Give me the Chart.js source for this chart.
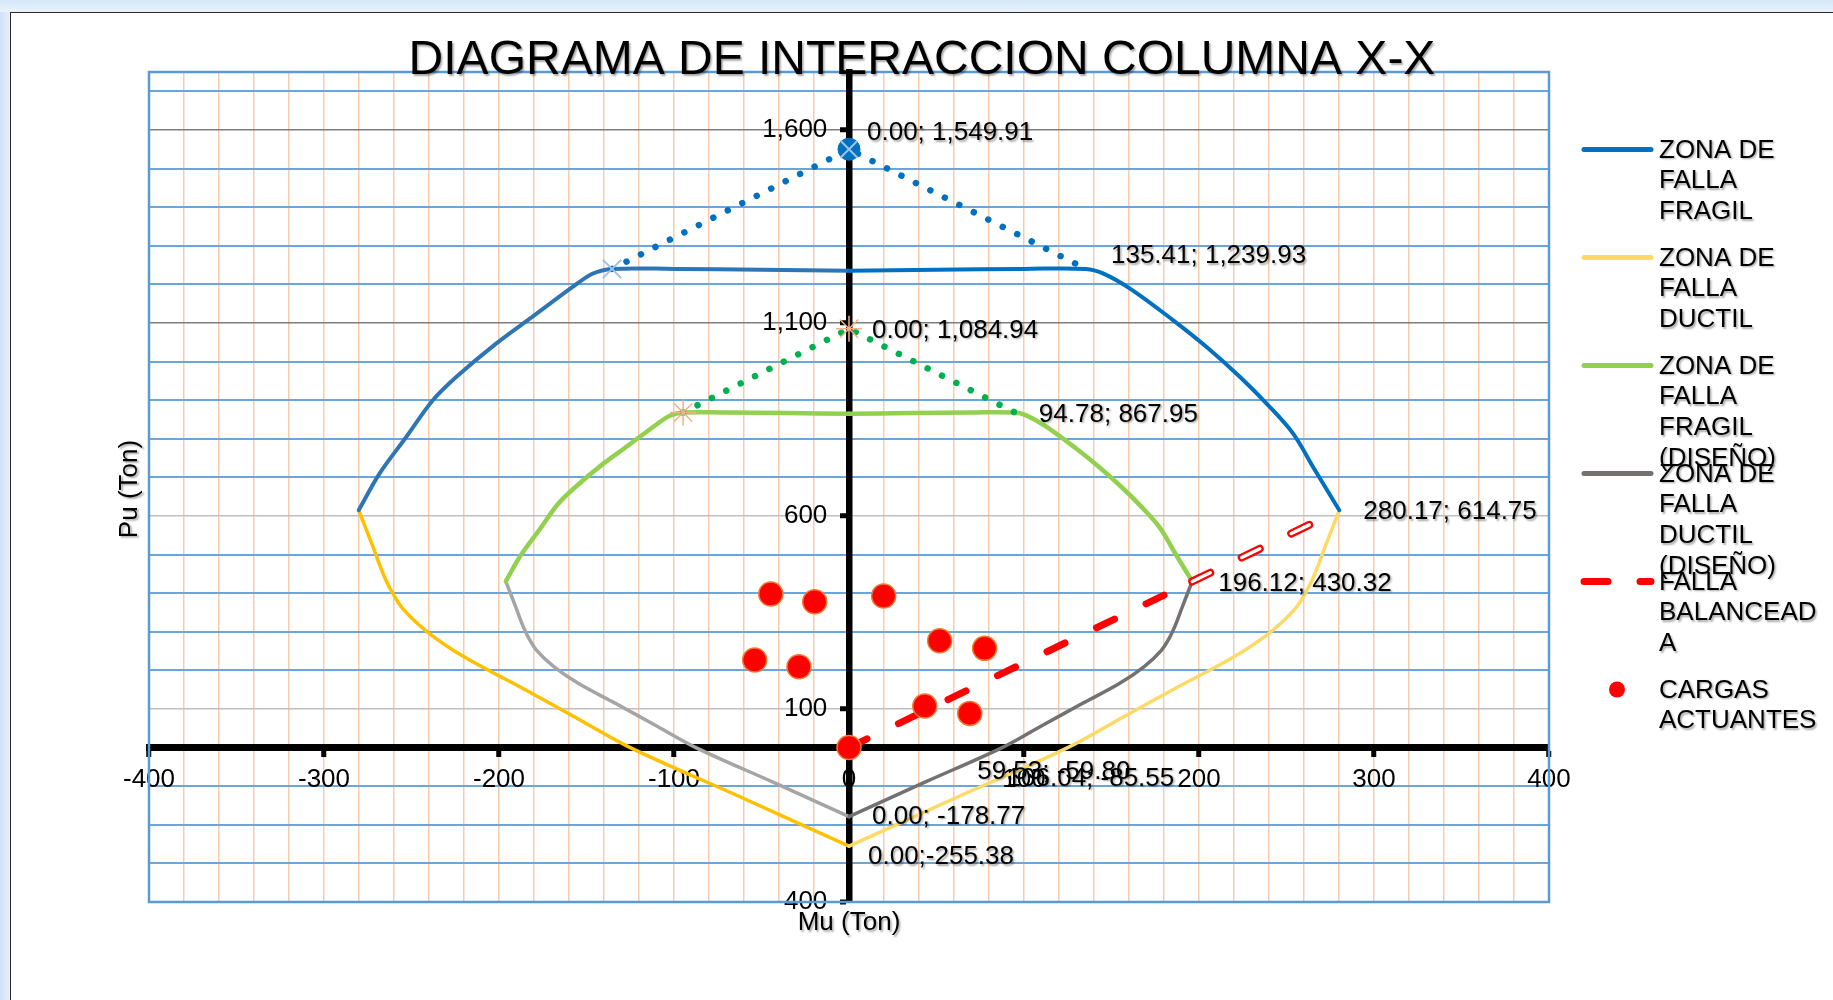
<!DOCTYPE html>
<html>
<head>
<meta charset="utf-8">
<title>Diagrama de interaccion columna X-X</title>
<script src="https://cdn.jsdelivr.net/npm/chart.js@4.4.1/dist/chart.umd.min.js"></script>
<style>
  html, body { margin: 0; padding: 0; width: 1833px; height: 1000px; overflow: hidden; }
  body { background: linear-gradient(to right, #cfe1f6, #e6f0fb 10px); position: relative; }
  #marco { position: absolute; left: 10px; top: 12px; width: 1900px; height: 1100px;
           background: #fff; border-left: 1.5px solid #2b2b2b; border-top: 1.5px solid #2b2b2b; }
  #franja { position: absolute; left: 0; top: 0; width: 1833px; height: 12px;
            background: linear-gradient(to bottom, #d7e7f8, #eaf2fc); }
  #contenedor { position: absolute; left: 0; top: 0; width: 1833px; height: 1000px; }
</style>
</head>
<body>
<div id="franja"></div>
<div id="marco"></div>
<div id="contenedor"><canvas id="grafico"></canvas></div>
<script>
const ticksX = [-400, -300, -200, -100, 0, 100, 200, 300, 400];
const ticksY = [-400, 100, 600, 1100, 1600];

// zona de falla fragil (nominal)
const fragilIzqX = [-280.17, -268.2, -252.9, -237.7, -224.3, -201.5, -180.6, -157.7, -146.3, -135.41, -100, -50, 0];
const fragilIzqY = [614.75, 710.3, 805.2, 900.3, 960.6, 1047.2, 1117, 1193.8, 1228, 1239.93, 1240, 1238, 1235];
const fragilDerX = [0, 50, 100, 135.41, 145.1, 160.4, 185.1, 204.2, 223.3, 238.5, 253.7, 265.1, 280.17];
const fragilDerY = [1235, 1238, 1240, 1239.93, 1228.5, 1189.6, 1107.5, 1038.3, 960.6, 891.7, 814, 727.5, 614.75];
const fragilTopeX = [-135.41, 0, 135.41];
const fragilTopeY = [1239.93, 1549.91, 1239.93];

// zona de falla ductil (nominal)
const ductilIzqX = [-280.17, -272, -266.3, -262, -255, -241, -220, -190, -157, -125, -62, 0];
const ductilIzqY = [614.75, 520, 451, 410, 360, 300, 235, 162, 80, 0, -128, -255.38];
const ductilDerX = [0, 62, 125, 157, 190, 220, 241, 255, 262, 266.3, 272, 280.17];
const ductilDerY = [-255.38, -128, 0, 80, 162, 235, 300, 360, 410, 451, 520, 614.75];

// zona de falla fragil (diseno)
const fragilDisIzqX = [-196.12, -187.7, -177.0, -166.4, -157.0, -141.1, -126.4, -110.4, -102.4, -94.78, -70, -35, 0];
const fragilDisIzqY = [430.32, 497.2, 563.6, 630.2, 672.4, 733.0, 781.9, 835.7, 859.6, 867.95, 868, 866.6, 864.5];
const fragilDisDerX = [0, 35, 70, 94.78, 101.6, 112.3, 129.6, 142.9, 156.3, 167, 177.6, 185.6, 196.12];
const fragilDisDerY = [864.5, 866.6, 868, 867.95, 859.95, 832.7, 775.3, 726.8, 672.4, 624.2, 569.8, 509.3, 430.32];
const fragilDisTopeX = [-94.78, 0, 94.78];
const fragilDisTopeY = [867.95, 1084.94, 867.95];

// zona de falla ductil (diseno)
const ductilDisIzqX = [-196.12, -190.4, -186.4, -183.4, -178.5, -168.7, -154, -133, -109.9, -87.5, -43.4, 0];
const ductilDisIzqY = [430.32, 364, 315.7, 287, 252, 210, 164.5, 113.4, 56, 0, -89.6, -178.77];
const ductilDisDerX = [0, 43.4, 87.5, 109.9, 133, 154, 168.7, 178.5, 183.4, 186.4, 190.4, 196.12];
const ductilDisDerY = [-178.77, -89.6, 0, 56, 113.4, 164.5, 210, 252, 287, 315.7, 364, 430.32];

// falla balanceada
const balanceadaX = [0, 196.12, 280.17];
const balanceadaY = [0, 430.32, 614.75];

// cargas actuantes
const cargasMu = [0, -44.7, -19.6, 19.8, -53.9, -28.6, 51.8, 77.5, 43.3, 69.0];
const cargasPu = [0, 397.7, 377.7, 392.5, 226.7, 209.3, 276.7, 257.0, 107.5, 88.6];

// rotulos de datos
const rotuloMu = [0, 135.41, 0, 94.78, 280.17, 196.12, 0, 0, 59.53, 106.04];
const rotuloPu = [1549.91, 1239.93, 1084.94, 867.95, 614.75, 430.32, -178.77, -255.38, -59.80, -85.55];
const rotuloTexto = ['0.00; 1,549.91', '135.41; 1,239.93', '0.00; 1,084.94', '94.78; 867.95',
  '280.17; 614.75', '196.12; 430.32', '0.00; -178.77', '0.00;-255.38', '59.53; -59.80', '106.04; -85.55'];
const rotuloDx = [18, 25, 23, 24, 24, 26, 23, 19, 24, -28];
const rotuloDy = [-16, -13, 2, 2, 2, 2, 0, 11, 1, -2];

const leyendaLineas = [
  ['ZONA DE', 'FALLA', 'FRAGIL'],
  ['ZONA DE', 'FALLA', 'DUCTIL'],
  ['ZONA DE', 'FALLA', 'FRAGIL', '(DISEÑO)'],
  ['ZONA DE', 'FALLA', 'DUCTIL', '(DISEÑO)'],
  ['FALLA', 'BALANCEAD', 'A'],
  ['CARGAS', 'ACTUANTES']
];

const FUENTE = '"Liberation Sans", Arial, Helvetica, sans-serif';
Chart.defaults.font.family = FUENTE;
Chart.defaults.font.size = 26;
Chart.defaults.color = '#000';

const puntos = (xs, ys) => xs.map((v, i) => ({ x: v, y: ys[i] }));

function linea(xs, ys, color, ancho, extra) {
  return Object.assign({
    data: puntos(xs, ys),
    showLine: true,
    borderColor: color,
    backgroundColor: color,
    borderWidth: ancho,
    pointRadius: 0,
    tension: 0.35,
    borderCapStyle: 'round',
    borderJoinStyle: 'round'
  }, extra || {});
}

function sombra(ctx) {
  ctx.shadowColor = 'rgba(0,0,0,0.35)';
  ctx.shadowOffsetX = 1.5;
  ctx.shadowOffsetY = 1.5;
  ctx.shadowBlur = 2;
}

// marco azul del area de trazado
const marcoPlugin = {
  id: 'marco',
  beforeDatasetsDraw(chart) {
    const { ctx, chartArea: a } = chart;
    ctx.save();
    ctx.strokeStyle = '#5b9bd5';
    ctx.lineWidth = 2.5;
    ctx.strokeRect(a.left, a.top, a.right - a.left, a.bottom - a.top);
    ctx.restore();
  }
};

const rotulosPlugin = {
  id: 'rotulos',
  afterDatasetsDraw(chart) {
    const { ctx, scales: { x, y } } = chart;
    ctx.save();
    sombra(ctx);
    ctx.font = '26px ' + FUENTE;
    ctx.fillStyle = '#000';
    ctx.textAlign = 'left';
    ctx.textBaseline = 'middle';
    rotuloMu.forEach((m, i) => {
      ctx.fillText(rotuloTexto[i], x.getPixelForValue(m) + rotuloDx[i], y.getPixelForValue(rotuloPu[i]) + rotuloDy[i]);
    });
    ctx.restore();
  }
};

const textosPlugin = {
  id: 'textos',
  afterDraw(chart) {
    const { ctx, chartArea: a } = chart;
    ctx.save();
    sombra(ctx);
    ctx.fillStyle = '#000';
    ctx.textBaseline = 'middle';
    ctx.textAlign = 'center';
    ctx.font = '48px ' + FUENTE;
    ctx.fillText('DIAGRAMA DE INTERACCION COLUMNA X-X', 922, 61);

    ctx.font = '26px ' + FUENTE;
    ctx.fillText('Mu (Ton)', (a.left + a.right) / 2, a.bottom + 21);
    ctx.save();
    ctx.translate(130, (a.top + a.bottom) / 2 + 2);
    ctx.rotate(-Math.PI / 2);
    ctx.fillText('Pu (Ton)', 0, 0);
    ctx.restore();

    // leyenda
    ctx.textAlign = 'left';
    chart.data.datasets.forEach(ds => {
      if (ds.leyenda === undefined) return;
      const yc = 149.5 + ds.leyenda * 108;
      ctx.save();
      ctx.shadowColor = 'transparent';
      if (ds.showLine) {
        ctx.strokeStyle = ds.borderColor;
        ctx.lineWidth = ds.leyendaAncho || 5;
        ctx.lineCap = 'round';
        ctx.setLineDash(ds.leyendaGuion || []);
        ctx.beginPath();
        ctx.moveTo(1584, yc);
        ctx.lineTo(1651, yc);
        ctx.stroke();
      } else {
        ctx.fillStyle = ds.backgroundColor;
        ctx.beginPath();
        ctx.arc(1617, yc, 8, 0, Math.PI * 2);
        ctx.fill();
      }
      ctx.restore();
      leyendaLineas[ds.leyenda].forEach((t, k) => {
        ctx.fillText(t, 1659, yc + 1 + k * 30.7);
      });
    });
    ctx.restore();
  }
};

const recta = { tension: 0 };

const datasets = [
  {
    label: 'CARGAS ACTUANTES',
    data: puntos(cargasMu, cargasPu),
    showLine: false,
    pointRadius: 12,
    pointBorderWidth: 1.5,
    backgroundColor: '#ff0000',
    borderColor: '#ed7d31',
    leyenda: 5
  },
  // marcadores de los vertices superiores
  {
    data: [{ x: fragilTopeX[1], y: fragilTopeY[1] }, { x: fragilTopeX[0], y: fragilTopeY[0] }],
    showLine: false, pointStyle: 'crossRot', pointRadius: [12, 13],
    borderColor: '#9dc3e6', backgroundColor: '#9dc3e6', pointBorderWidth: 2
  },
  {
    data: [{ x: fragilTopeX[1], y: fragilTopeY[1] }],
    showLine: false, pointStyle: 'circle', pointRadius: 11,
    borderColor: '#0070c0', backgroundColor: '#0070c0', pointBorderWidth: 1
  },
  {
    data: [{ x: fragilDisTopeX[0], y: fragilDisTopeY[0] }, { x: fragilDisTopeX[1], y: fragilDisTopeY[1] }],
    showLine: false, pointStyle: 'star', pointRadius: 13,
    borderColor: '#f4b183', backgroundColor: '#f4b183', pointBorderWidth: 1.5
  },
  linea(balanceadaX.slice(0, 2), balanceadaY.slice(0, 2), '#ff0000', 7,
    Object.assign({ label: 'FALLA BALANCEADA', borderDash: [20, 35], leyenda: 4, leyendaAncho: 7, leyendaGuion: [24, 32] }, recta)),
  linea(balanceadaX.slice(1), balanceadaY.slice(1), '#ffffff', 3.5, Object.assign({ borderDash: [20, 35] }, recta)),
  linea(balanceadaX.slice(1), balanceadaY.slice(1), '#ff0000', 8, Object.assign({ borderDash: [20, 35] }, recta)),
  linea(fragilTopeX, fragilTopeY, '#0070c0', 6.5, Object.assign({ borderDash: [0.01, 16.2] }, recta)),
  linea(fragilDisTopeX, fragilDisTopeY, '#00b050', 6.5, Object.assign({ borderDash: [0.01, 16.1] }, recta)),
  linea(fragilDerX, fragilDerY, '#0070c0', 4, { label: 'ZONA DE FALLA FRAGIL', leyenda: 0 }),
  linea(fragilIzqX, fragilIzqY, '#2e75b6', 4),
  linea(fragilDisDerX, fragilDisDerY, '#92d050', 4.5, { label: 'ZONA DE FALLA FRAGIL (DISEÑO)', leyenda: 2 }),
  linea(fragilDisIzqX, fragilDisIzqY, '#92d050', 4.5),
  linea(ductilDisDerX, ductilDisDerY, '#767171', 3.5, { label: 'ZONA DE FALLA DUCTIL (DISEÑO)', leyenda: 3 }),
  linea(ductilDisIzqX, ductilDisIzqY, '#a5a5a5', 3.5),
  linea(ductilDerX, ductilDerY, '#ffd966', 3.5, { label: 'ZONA DE FALLA DUCTIL', leyenda: 1 }),
  linea(ductilIzqX, ductilIzqY, '#ffc000', 3.5)
];

new Chart(document.getElementById('grafico'), {
  type: 'scatter',
  data: { datasets },
  plugins: [marcoPlugin, rotulosPlugin, textosPlugin],
  options: {
    responsive: true,
    maintainAspectRatio: false,
    animation: false,
    events: [],
    layout: { padding: { left: 149, right: 284, top: 72, bottom: 98 } },
    plugins: {
      legend: { display: false },
      title: { display: false },
      tooltip: { enabled: false }
    },
    scales: {
      x: {
        type: 'linear',
        position: { y: 0 },
        min: -400, max: 400,
        ticks: {
          stepSize: 20,
          autoSkip: false,
          maxRotation: 0,
          padding: 11,
          callback: v => ticksX.includes(v) ? String(v) : ''
        },
        grid: {
          color: '#f8cbad',
          lineWidth: 1.5,
          tickLength: 6,
          tickWidth: 5,
          tickColor: c => ticksX.includes(c.tick.value) ? '#000' : 'rgba(0,0,0,0)'
        },
        border: { color: '#000', width: 7 }
      },
      y: {
        type: 'linear',
        position: { x: 0 },
        min: -400, max: 1750,
        ticks: {
          stepSize: 100,
          includeBounds: false,
          autoSkip: false,
          // el eje centrado no separa los rotulos de la linea: se deja un margen con espacios
          callback: v => ticksY.includes(v) ? v.toLocaleString('en-US') + '   ' : ''
        },
        grid: {
          color: c => {
            const v = c.tick.value;
            if (ticksY.includes(v) && v !== -400) return v >= 1100 ? '#7f7f7f' : '#bfbfbf';
            return '#6aa5dc';
          },
          lineWidth: c => (ticksY.includes(c.tick.value) && c.tick.value !== -400) ? 1.5 : 2,
          tickLength: 6,
          tickWidth: 5,
          tickColor: c => ticksY.includes(c.tick.value) ? '#000' : 'rgba(0,0,0,0)'
        },
        border: { color: '#000', width: 6.5 }
      }
    }
  }
});
</script>
</body>
</html>
